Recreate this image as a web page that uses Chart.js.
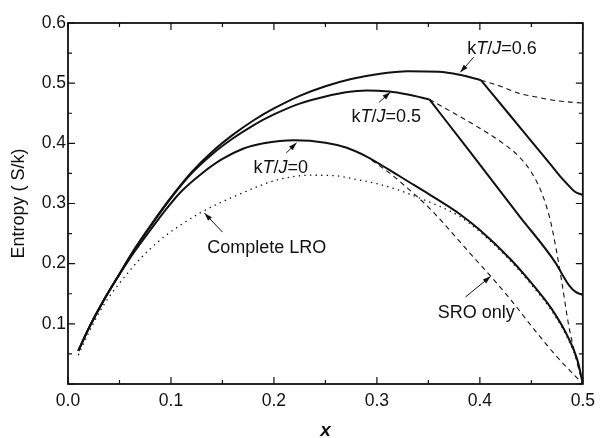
<!DOCTYPE html>
<html>
<head>
<meta charset="utf-8">
<script src="https://cdn.jsdelivr.net/npm/chart.js@4.4.1/dist/chart.umd.min.js"></script>
<style>
  html, body { margin: 0; padding: 0; background: #fff; }
  #wrap { width: 602px; height: 438px; }
</style>
</head>
<body>
<div id="wrap"><canvas id="entropyChart" width="602" height="438"></canvas></div>
<script>
// --- values ---
// kT/J = 0 (solid)
const kt0X = [0.01, 0.02, 0.035, 0.05, 0.065, 0.08, 0.095, 0.11, 0.13, 0.15, 0.17, 0.19, 0.22, 0.25, 0.27, 0.29, 0.31, 0.33, 0.35, 0.38, 0.40, 0.43, 0.45, 0.47, 0.485, 0.495, 0.5];
const kt0Y = [0.055, 0.092, 0.14, 0.182, 0.221, 0.256, 0.29, 0.32, 0.35, 0.374, 0.391, 0.4, 0.405, 0.401, 0.393, 0.378, 0.358, 0.337, 0.316, 0.283, 0.256, 0.207, 0.168, 0.124, 0.08, 0.038, 0.0];

// kT/J = 0.5 (solid, before and after the kink) and its dashed branch
const kt05X = [0.01, 0.02, 0.035, 0.05, 0.065, 0.08, 0.10, 0.12, 0.14, 0.16, 0.18, 0.20, 0.225, 0.25, 0.27, 0.29, 0.312, 0.33, 0.351];
const kt05Y = [0.055, 0.092, 0.14, 0.183, 0.225, 0.262, 0.309, 0.35, 0.382, 0.408, 0.43, 0.448, 0.466, 0.478, 0.485, 0.488, 0.486, 0.481, 0.473];
const kt05BX = [0.351, 0.389, 0.438, 0.474, 0.48, 0.487, 0.493, 0.5];
const kt05BY = [0.473, 0.389, 0.280, 0.2, 0.182, 0.163, 0.153, 0.148];
const kt05DX = [0.351, 0.375, 0.40, 0.42, 0.438, 0.45, 0.46, 0.468, 0.474, 0.48, 0.486, 0.493, 0.5];
const kt05DY = [0.473, 0.45, 0.425, 0.403, 0.378, 0.352, 0.318, 0.275, 0.225, 0.165, 0.1, 0.045, 0.0];

// kT/J = 0.6 (solid, before and after the kink) and its dashed branch
const kt06X = [0.01, 0.02, 0.035, 0.05, 0.065, 0.08, 0.10, 0.12, 0.14, 0.16, 0.18, 0.20, 0.225, 0.25, 0.275, 0.30, 0.33, 0.36, 0.38, 0.401];
const kt06Y = [0.055, 0.092, 0.14, 0.183, 0.225, 0.263, 0.31, 0.352, 0.386, 0.414, 0.438, 0.458, 0.479, 0.495, 0.507, 0.515, 0.52, 0.519, 0.514, 0.505];
const kt06BX = [0.401, 0.43, 0.47, 0.478, 0.485, 0.492, 0.5];
const kt06BY = [0.505, 0.445, 0.362, 0.345, 0.332, 0.32, 0.314];
const kt06DX = [0.401, 0.42, 0.438, 0.455, 0.47, 0.485, 0.5];
const kt06DY = [0.505, 0.495, 0.483, 0.477, 0.472, 0.469, 0.467];

// SRO only (dashed)
const sroX = [0.295, 0.315, 0.33, 0.35, 0.37, 0.39, 0.41, 0.43, 0.454, 0.475, 0.5];
const sroY = [0.372, 0.347, 0.325, 0.294, 0.257, 0.218, 0.18, 0.14, 0.088, 0.045, 0.0];

// Complete LRO (dotted)
const lroX = [0.01, 0.02, 0.03, 0.04, 0.055, 0.07, 0.09, 0.11, 0.13, 0.15, 0.17, 0.19, 0.21, 0.235, 0.26, 0.28, 0.30, 0.32, 0.34, 0.36, 0.38, 0.40, 0.43, 0.45, 0.47, 0.485, 0.495, 0.5];
const lroY = [0.048, 0.085, 0.118, 0.145, 0.178, 0.208, 0.24, 0.265, 0.286, 0.303, 0.318, 0.332, 0.342, 0.347, 0.346, 0.34, 0.333, 0.323, 0.31, 0.296, 0.279, 0.253, 0.204, 0.165, 0.121, 0.077, 0.035, 0.0];

// axis ticks
const xTicks = [0.0, 0.1, 0.2, 0.3, 0.4, 0.5];
const yTicks = [0.1, 0.2, 0.3, 0.4, 0.5, 0.6];

// labels with arrows (data coordinates)
const notes = [
  { parts: [['k', ''], ['T', 'italic '], ['/', ''], ['J', 'italic '], ['=0.6', '']], at: [0.4216, 0.556], from: [0.394, 0.543], to: [0.381, 0.518] },
  { parts: [['k', ''], ['T', 'italic '], ['/', ''], ['J', 'italic '], ['=0.5', '']], at: [0.309, 0.4435], from: [0.302, 0.468], to: [0.313, 0.485] },
  { parts: [['k', ''], ['T', 'italic '], ['/', ''], ['J', 'italic '], ['=0', '']], at: [0.2067, 0.3588], from: [0.212, 0.384], to: [0.222, 0.401] },
  { parts: [['Complete LRO', '']], at: [0.193, 0.226], from: [0.150, 0.2525], to: [0.1326, 0.284] },
  { parts: [['SRO only', '']], at: [0.3964, 0.118], from: [0.386, 0.1445], to: [0.4105, 0.179] }
];

const FONT = "'Liberation Sans', Arial, sans-serif";
const INK = '#111';

const pts = (xs, ys) => xs.map((x, i) => ({ x, y: ys[i] }));

function line(data, style) {
  const base = { data, borderColor: INK, pointRadius: 0, fill: false, cubicInterpolationMode: 'monotone' };
  if (style === 'solid') return { ...base, borderWidth: 2 };
  if (style === 'dash') return { ...base, borderWidth: 1.1, borderDash: [5, 4] };
  return { ...base, borderWidth: 1.3, borderDash: [1.4, 4.2] };
}

// inward tick marks, frame and arrow labels
const decorations = {
  id: 'decorations',
  afterDraw(chart) {
    const { ctx, chartArea: a, scales: { x, y } } = chart;
    ctx.save();
    ctx.strokeStyle = INK;
    ctx.fillStyle = INK;
    ctx.lineWidth = 1.8;
    ctx.strokeRect(a.left, a.top, a.right - a.left, a.bottom - a.top);

    ctx.lineWidth = 1.2;
    ctx.beginPath();
    for (let i = 0; i <= 10; i++) {
      const px = x.getPixelForValue(i * 0.05);
      const len = i % 2 ? 4 : 7;
      ctx.moveTo(px, a.bottom); ctx.lineTo(px, a.bottom - len);
      ctx.moveTo(px, a.top); ctx.lineTo(px, a.top + len);
    }
    for (let i = 0; i <= 12; i++) {
      const py = y.getPixelForValue(i * 0.05);
      const len = i % 2 ? 4 : 7;
      ctx.moveTo(a.left, py); ctx.lineTo(a.left + len, py);
      ctx.moveTo(a.right, py); ctx.lineTo(a.right - len, py);
    }
    ctx.stroke();

    ctx.textBaseline = 'middle';
    ctx.textAlign = 'left';
    notes.forEach(n => {
      let w = 0;
      n.parts.forEach(([t, st]) => { ctx.font = st + '18px ' + FONT; w += ctx.measureText(t).width; });
      let cx = x.getPixelForValue(n.at[0]) - w / 2;
      const cy = y.getPixelForValue(n.at[1]);
      n.parts.forEach(([t, st]) => {
        ctx.font = st + '18px ' + FONT;
        ctx.fillText(t, cx, cy);
        cx += ctx.measureText(t).width;
      });
      const x1 = x.getPixelForValue(n.from[0]), y1 = y.getPixelForValue(n.from[1]);
      const x2 = x.getPixelForValue(n.to[0]), y2 = y.getPixelForValue(n.to[1]);
      ctx.lineWidth = 1;
      ctx.beginPath(); ctx.moveTo(x1, y1); ctx.lineTo(x2, y2); ctx.stroke();
      const ang = Math.atan2(y2 - y1, x2 - x1);
      ctx.beginPath();
      ctx.moveTo(x2, y2);
      ctx.lineTo(x2 - 8 * Math.cos(ang) + 2.6 * Math.sin(ang), y2 - 8 * Math.sin(ang) - 2.6 * Math.cos(ang));
      ctx.lineTo(x2 - 8 * Math.cos(ang) - 2.6 * Math.sin(ang), y2 - 8 * Math.sin(ang) + 2.6 * Math.cos(ang));
      ctx.closePath();
      ctx.fill();
    });
    ctx.restore();
  }
};

new Chart(document.getElementById('entropyChart'), {
  type: 'line',
  data: {
    datasets: [
      line(pts(lroX, lroY), 'dot'),
      line(pts(sroX, sroY), 'dash'),
      line(pts(kt05DX, kt05DY), 'dash'),
      line(pts(kt06DX, kt06DY), 'dash'),
      line(pts(kt0X, kt0Y), 'solid'),
      line(pts(kt05X, kt05Y), 'solid'),
      line(pts(kt05BX, kt05BY), 'solid'),
      line(pts(kt06X, kt06Y), 'solid'),
      line(pts(kt06BX, kt06BY), 'solid')
    ]
  },
  options: {
    responsive: false,
    animation: false,
    layout: { padding: { top: 23, right: 18, left: 0, bottom: 0 } },
    plugins: { legend: { display: false }, tooltip: { enabled: false } },
    scales: {
      x: {
        type: 'linear', min: 0, max: 0.5,
        afterBuildTicks: s => { s.ticks = xTicks.map(v => ({ value: v })); },
        afterFit: s => { s.height = 54; },
        grid: { display: false, drawTicks: false },
        border: { display: false },
        ticks: { color: INK, font: { family: FONT, size: 17.5 }, padding: 7, maxRotation: 0, callback: v => v.toFixed(1) },
        title: { display: true, text: 'x', color: INK, font: { family: FONT, size: 19, style: 'italic', weight: 'bold' }, padding: { top: 0, bottom: -4 } }
      },
      y: {
        type: 'linear', min: 0, max: 0.6,
        afterBuildTicks: s => { s.ticks = yTicks.map(v => ({ value: v })); },
        afterFit: s => { s.width = 68; },
        grid: { display: false, drawTicks: false },
        border: { display: false },
        ticks: { color: INK, font: { family: FONT, size: 17.5 }, padding: 2, callback: v => v.toFixed(1) },
        title: { display: true, text: 'Entropy ( S/k)', color: INK, font: { family: FONT, size: 18 }, padding: { top: 8, bottom: 0 } }
      }
    }
  },
  plugins: [decorations]
});
</script>
</body>
</html>
